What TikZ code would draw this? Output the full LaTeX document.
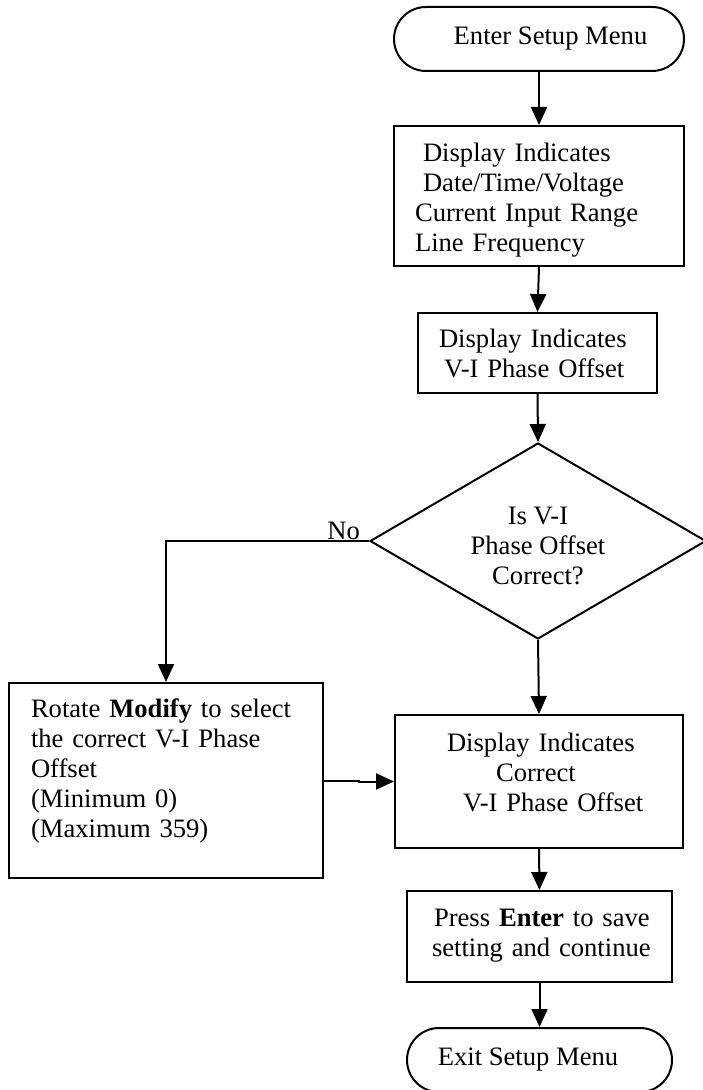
\documentclass[tikz,border=0pt]{standalone}
\usepackage{fontspec}
\setmainfont{Liberation Serif}
\usetikzlibrary{shapes.geometric, arrows.meta}

\begin{document}
\begin{tikzpicture}[x=.5pt, y=-.5pt, line width=1pt,
  every node/.style={font=\fontsize{13.3pt}{15pt}\selectfont},
  termbox/.style={draw, rounded corners=16pt, minimum height=32pt, inner sep=0pt},
  flowbox/.style={draw, align=left, inner xsep=0pt, inner ysep=2pt, text height=10pt},
  decbox/.style={draw, diamond, minimum width=168pt, minimum height=98pt, inner sep=0pt},
  flowarrow/.style={-{Triangle[length=9pt,width=8pt]}}]
\useasboundingbox (0,0) rectangle (702,1090);
\node[termbox, minimum width=145pt] (start) at (539,39) {\hspace*{11.5pt}Enter Setup Menu};
\node[flowbox, minimum width=145pt, minimum height=70pt, text width=145pt, text depth=44pt] (disp1) at (539,196)
  {\hspace*{14.5pt}Display Indicates\\ \hspace*{14.5pt}Date/Time/Voltage\\ \hspace*{10.5pt}Current Input Range\\ \hspace*{10.5pt}Line Frequency};
\node[flowbox, minimum width=119.5pt, minimum height=40pt, text width=119.5pt, text depth=15pt] (disp2) at (537.5,353)
  {\hspace*{10.5pt}Display Indicates\\ \hspace*{13pt}V-I Phase Offset};
\node[decbox, label={[align=center, yshift=-2.5pt]center:Is V-I\\Phase Offset\\Correct?}] (dec) at (538,541) {};
\node[anchor=base east, inner sep=0pt] (no) at ([xshift=-4pt,yshift=1pt]dec.west) {No};
\node[flowbox, minimum width=157pt, minimum height=97.5pt, text width=157pt, text depth=73.5pt] (modify) at (166,780.5)
  {\hspace*{11pt}Rotate \textbf{Modify} to select\\ \hspace*{11pt}the correct V-I Phase\\ \hspace*{11pt}Offset\\ \hspace*{11pt}(Minimum 0)\\ \hspace*{11pt}(Maximum 359)};
\node[flowbox, minimum width=144pt, minimum height=66.5pt, text width=144pt, text depth=40.5pt] (disp3) at (539,781.5)
  {\hspace*{26pt}Display Indicates\\ \hspace*{50.5pt}Correct\\ \hspace*{34pt}V-I Phase Offset};
\node[flowbox, minimum width=132.5pt, minimum height=45.5pt, text width=132.5pt, text depth=20.5pt] (press) at (539.5,936.5)
  {\hspace*{13.5pt}Press \textbf{Enter} to save\\ \hspace*{12.5pt}setting and continue};
\node[termbox, minimum width=132.5pt] (exit) at (539.5,1060) {Exit Setup Menu\hspace*{11.5pt}};
\foreach \src/\dst in {start/disp1, disp1/disp2, disp2/dec, dec/disp3, disp3/press, press/exit}
  \draw[flowarrow] (\src.south) -- (\dst.north);
\draw[flowarrow] (dec.west) -| (modify.north);
\draw[flowarrow] (modify.east) -- ++(35,0) |- (disp3.west);
\end{tikzpicture}
\end{document}
